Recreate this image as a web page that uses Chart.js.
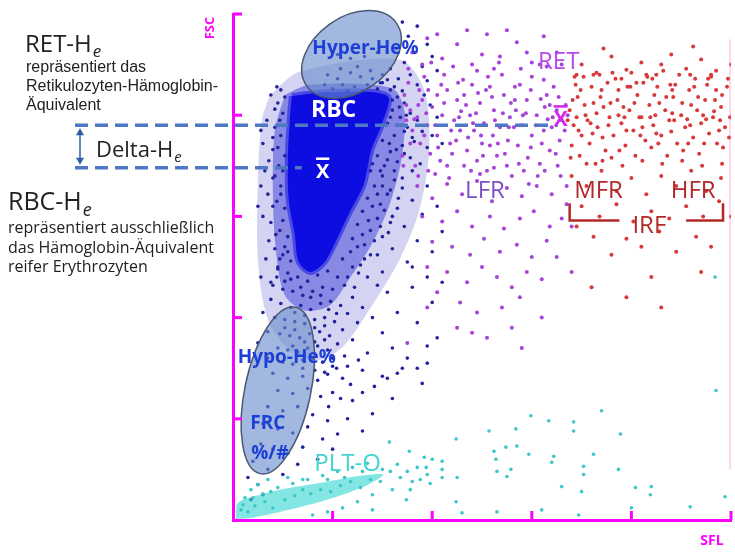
<!DOCTYPE html>
<html>
<head>
<meta charset="utf-8">
<script src="https://cdn.jsdelivr.net/npm/chart.js@4.4.0/dist/chart.umd.min.js"></script>
<style>
  html, body { margin: 0; padding: 0; background: #fff; }
  #wrap { width: 735px; height: 552px; }
</style>
</head>
<body>
<div id="wrap"><canvas id="plot" width="735" height="552"></canvas></div>
<script>
// SFL (x) und FSC (y), beide Achsen 0..500 Kanäle
const axisTicks = [100, 200, 300, 400, 500];

// dichter Kern der RBC-Wolke (Umriss)
const rbcCore = [[59,419],[97,423],[155,419],[149,390],[139,366],[131,331],[116,302],[104,277],[92,255],[78,245],[66,255],[62,282],[56,316],[55,356],[57,395],[59,419]];
// Hof um den Kern: innen mitteldicht, aussen locker
const rbcInner = [[52,420],[77,430],[159,427],[172,405],[169,356],[157,311],[139,272],[116,237],[97,212],[72,207],[52,222],[43,267],[40,326],[42,385],[52,420]];
const rbcOuter = [[37,420],[67,443],[167,455],[192,425],[197,366],[187,306],[167,257],[137,208],[112,173],[87,158],[57,168],[35,198],[25,257],[25,336],[29,395],[37,420]];

const rbcDots = [
  [170,492],[185,488],[176,478],[195,470],[164,466],[182,462],[200,458],[172,452],[190,448],[158,446],[205,444],[178,440],[166,436],[195,434],[150,432],
  [95,440],[105,436],[118,442],[128,438],[140,436],[110,430],[122,428],[135,430],[148,432],[100,426],[115,424],[130,424],[145,426],[92,430],[108,446],[125,448],[138,444],[150,440],[118,456],[132,458],[105,460],[145,462],
  [38,420],[45,412],[50,402],[34,395],[42,388],[48,380],[30,372],[40,366],[52,360],[36,355],[46,350],[44,428],[52,418],[28,385],
  [158,425],[165,418],[172,412],[160,405],[178,402],[168,398],[185,395],[155,392],[175,388],[190,384],[162,380],[150,375],[182,374],[170,370],[195,368],[158,364],[145,360],[178,358],[165,354],[188,352],[152,350],[198,410],[205,398],[192,420],[185,430],[200,380],[210,372],[148,345],[140,352],
  [32,345],[40,338],[48,330],[35,322],[44,315],[52,308],[30,300],[38,294],[47,286],[55,280],[36,276],[42,268],[50,262],[58,256],[33,258],[45,250],[28,330],[25,310],
  [138,345],[150,340],[162,336],[142,330],[170,328],[155,322],[135,318],[180,316],[148,312],[165,308],[130,305],[190,302],[145,298],[158,294],[125,292],[172,290],[138,286],[150,280],[120,278],[185,276],[132,272],[160,268],[118,265],[145,262],[110,258],[175,255],[128,252],[200,265],[195,330],[205,310],[210,285],[180,250],[135,240],[150,245],[195,240],
  [45,248],[55,244],[65,240],[75,236],[85,242],[95,246],[105,240],[40,232],[50,228],[60,226],[70,222],[80,226],[90,230],[100,228],[112,232],[38,218],[48,214],[58,210],[68,212],[78,208],[88,214],[98,216],[108,212],[120,220],
  [42,200],[52,198],[62,196],[72,194],[82,198],[92,200],[102,196],[115,204],[130,210],[35,186],[47,184],[57,182],[67,180],[77,184],[87,186],[97,182],[110,188],[125,195],[140,200],
  [45,170],[55,168],[65,166],[75,170],[85,172],[95,168],[105,174],[120,178],[150,185],[160,170],[50,156],[60,154],[70,158],[80,160],[90,156],[100,152],[112,162],[135,165],[170,150],[185,195],[200,215],[155,225],[165,205],[145,232],[180,230],[195,172],[30,205],[28,240],[25,175],[35,160],
  [40,145],[55,140],[70,142],[85,138],[95,144],[110,140],[130,148],[150,142],[45,128],[60,125],[75,130],[88,122],[100,126],[120,118],[160,120],[190,135],
  [35,112],[50,108],[65,112],[80,104],[95,98],[115,100],[140,105],[30,95],[45,90],[60,86],[75,92],[90,80],[105,85],[28,75],[40,70],[55,66],[70,72],[85,60],[100,70],[130,88],
  [20,58],[35,50],[50,45],[65,55],[25,35],[15,42],[30,25],[18,20],
  [155,435],[162,428],[170,424],[160,415],[167,408],[174,400],[158,398],[165,390],[172,384],[180,378],[157,372],[164,366],[172,362],[180,345],[155,356],[162,345],[170,338],[150,330],[158,326],[166,318],[145,322],[152,306],[160,300],[140,310],[148,290],[156,284],[136,296],[142,276],[130,282],[138,262],[125,270],[132,258],[120,250],[126,244],[115,240],[122,230],
  [48,425],[42,406],[47,395],[40,378],[45,368],[50,345],[42,340],[48,322],[40,310],[50,296],[43,282],[52,270],[47,258],[55,265],[38,235],[44,240],[52,236],
  [58,238],[68,230],[78,220],[88,222],[96,208],[62,205],[72,202],[82,190],[92,192],[104,204],[52,190],[62,188],[72,176],[82,176],[92,178],[100,160],[60,172],[70,150],[82,148],[92,146],[104,150],[115,152],[126,158],[118,134],[108,120],[96,112],[130,126],[142,132],[155,140],[165,145],[175,160],[185,150],[195,155],[205,180],[210,235]
];

const retDots = [
  [172,420],[178,405],[185,398],[190,415],[195,390],[200,408],[205,380],[210,400],[215,425],[218,372],[222,395],[180,385],[188,372],[198,362],[208,355],[176,432],[192,438],[212,440],[225,415],[228,385],[170,360],[183,350],[196,345],[215,350],[220,362],[205,420],[187,425],[174,395],[229,404],[226,432],
  [232,420],[238,400],[242,385],[248,412],[252,392],[258,370],[262,405],[268,388],[272,420],[276,375],[235,365],[245,355],[255,345],[265,360],[275,350],[240,430],[256,438],[270,440],[278,398],[250,372],[260,418],[244,402],[236,378],[266,372],[279,412],
  [284,405],[290,390],[295,415],[300,380],[305,400],[310,372],[315,420],[320,388],[325,405],[330,395],[286,370],[296,358],[308,352],[318,365],[328,375],[288,430],[300,438],[312,435],[322,428],[334,410],[292,345],[306,340],[326,350],[282,388],[316,396],
  [174,410],[182,396],[194,402],[203,390],[212,412],[219,385],[227,398],[234,410],[241,392],[249,380],[254,425],[263,395],[271,402],[277,388],[283,415],[291,400],[299,425],[304,390],[313,408],[321,398],[327,418],[333,385],[178,372],[192,380],[206,368],[224,375],[239,345],[251,360],[261,380],[273,362],[287,352],[299,368],[312,385],[324,362],[336,400],[186,410],[196,425],[209,430],[231,435],[246,422],[258,428],[283,428],[294,402],[309,416],[318,410],
  [171,350],[186,340],[203,342],[217,338],[232,350],[248,342],[262,348],[280,340],[297,332],[313,345],[329,340],[176,446],[199,452],[221,448],[245,444],[267,452],[289,446],[308,450],
  [180,462],[195,476],[210,456],[225,470],[240,450],[255,480],[268,458],[285,472],[300,452],[312,478],[325,462],[190,450],[235,484],[262,446],[295,462],[330,450],[205,480],[275,484],[250,460],[315,448],
  [185,330],[200,318],[215,332],[230,322],[245,335],[260,315],[275,328],[290,320],[305,330],[320,322],[335,312],[190,300],[210,295],[225,305],[240,290],[258,300],[272,288],[288,298],[302,305],[318,290],[330,298],
  [200,275],[220,270],[238,262],[252,278],[268,265],[285,272],[300,260],[315,276],[195,250],[215,245],[235,235],[250,250],[265,240],[280,230],[295,245],[205,225],[228,215],[245,205],[270,210],[288,220],[310,238],[325,260],[340,290],[335,330],[240,185],[280,190],[195,210],[310,200],[225,190],[255,180],[175,175],[290,170],[340,245]
];

const irfDots = [
  [338,405],[342,390],[346,418],[350,380],[354,400],[358,372],[362,412],[366,388],[370,425],[374,365],[378,398],[382,380],[386,415],[390,392],[394,370],[398,405],[402,385],[406,420],[410,398],[414,375],[418,410],[422,390],[426,428],[430,380],[434,405],[438,395],[442,418],[446,372],[450,400],[454,388],[458,425],[462,378],[466,405],[470,392],[474,415],[478,382],[482,398],[486,372],[490,408],[494,388],[498,378],
  [340,370],[348,360],[356,395],[364,352],[372,408],[380,358],[388,365],[396,428],[404,360],[412,432],[420,368],[428,412],[436,360],[444,430],[452,365],[460,410],[468,362],[476,430],[484,415],[492,368],
  [344,430],[352,438],[368,440],[384,436],[400,442],[416,438],[432,444],[448,440],[464,436],[480,440],[496,428],[360,428],[376,432],[392,408],[408,398],[424,400],[440,384],[456,396],[472,400],[488,385],
  [345,398],[361,382],[377,390],[393,398],[409,380],[425,382],[441,402],[457,372],[473,372],[489,395],
  [336,395],[341,415],[347,385],[353,410],[359,392],[365,402],[371,378],[379,412],[387,400],[395,385],[403,412],[411,388],[419,398],[427,372],[435,418],[443,395],[451,412],[459,390],[467,418],[475,396],[483,404],[491,420],[499,398],
  [339,358],[355,352],[371,355],[391,350],[411,355],[431,352],[451,355],[471,350],[491,352],[343,438],[362,440],[381,442],[399,428],[421,436],[439,430],[459,440],[477,436],[497,436],[349,425],[369,418],[387,425],[405,432],[423,420],[441,425],[463,428],[485,425],
  [350,450],[365,442],[380,458],[395,445],[410,452],[425,440],[440,460],[455,446],[470,455],[485,444],[500,450],[372,466],[430,450],[462,468],[345,440],[390,436],[415,440],[480,438],
  [340,340],[355,330],[370,345],[385,325],[400,338],[415,322],[430,340],[445,330],[460,345],[475,325],[490,338],[350,310],[368,300],[385,312],[402,295],[420,305],[438,298],[455,310],[472,300],[488,315],
  [362,280],[395,278],[428,285],[465,280],[500,300],[380,262],[445,265],[345,290],[410,270],[480,270],[360,230],[420,240],[470,245],[395,220],[430,210]
];

// dichtes PLT-O-Band am Ursprung (Umriss)
const pltBand = [[3,1],[5,17],[27,25],[47,30],[90,37],[123,43],[151,45],[136,35],[116,27],[84,17],[47,8],[17,2],[3,1]];
const pltDots = [
  [20,22],[30,26],[45,32],[60,36],[75,40],[90,44],[105,48],[120,52],[135,56],[150,50],[165,55],[175,48],[185,52],[195,45],[180,38],[160,30],[140,25],[125,18],[110,12],[95,8],[80,5],[200,60],[210,50],[225,42],[15,8],[10,15],[40,12],[25,35],
  [8,10],[12,22],[22,14],[32,18],[38,28],[52,20],[62,24],[70,30],[78,26],[88,30],[98,28],[108,34],[118,38],[128,32],[138,40],[148,38],[158,48],[168,42],[178,30],[188,40],[198,36],[130,48],[112,42],[95,40],[70,40],[55,42],[35,40],[18,30],
  [157,77],[177,68],[192,62],[210,58],[224,80],[257,88],[284,90],[299,103],[317,98],[342,97],[342,88],[370,108],[389,85],[485,128],
  [262,68],[274,72],[285,73],[264,60],[297,65],[322,63],[320,57],[362,65],[352,53],[352,45],[387,50],[279,50],[275,43],[265,48],
  [330,33],[350,28],[404,32],[420,33],[419,25],[459,13],[494,23],[224,18],[265,8],[310,10],[347,5],[400,12],[174,20],[210,42],[194,52],[230,7],[140,10],[484,240]
];

// Gates (Ellipsen), Mittelpunkt und Halbachsen in Kanälen
const gates = [
  { cx: 119, cy: 460, rx: 55, ry: 37, rot: -35 },  // Hyper-He%
  { cx: 45, cy: 128, rx: 33, ry: 84, rot: 12 }     // Hypo-He%
];

const plotLabels = [
  { text: 'Hyper-He%', x: 133, y: 466, color: '#1d3fd6', font: 'bold 19px "Open Sans"' },
  { text: 'RBC', x: 101, y: 405, color: '#ffffff', font: 'bold 23px "Open Sans"' },
  { text: 'RET', x: 327, y: 452, color: '#b648ec', font: '24px "Open Sans"' },
  { text: 'LFR', x: 253, y: 325, color: '#7b50c4', font: '24px "Open Sans"' },
  { text: 'MFR', x: 367, y: 325, color: '#b32828', font: '24px "Open Sans"' },
  { text: 'HFR', x: 462, y: 325, color: '#b32828', font: '24px "Open Sans"' },
  { text: 'IRF', x: 418, y: 290, color: '#b32828', font: '24px "Open Sans"' },
  { text: 'Hypo-He%', x: 54, y: 160, color: '#1d3fd6', font: 'bold 19px "Open Sans"' },
  { text: 'FRC', x: 35, y: 95, color: '#1d3fd6', font: 'bold 19px "Open Sans"' },
  { text: '%/#', x: 37, y: 66, color: '#1d3fd6', font: 'bold 19px "Open Sans"' },
  { text: 'PLT-O', x: 115, y: 55, color: '#3fd6d0', font: '24px "Open Sans"' }
];

const pts = arr => arr.map(([x, y]) => ({ x, y }));
const MAGENTA = '#ff00ff';

function subText(ctx, main, sub, x, y, size) {
  ctx.font = size + 'px "Open Sans"';
  ctx.fillText(main, x, y);
  const w = ctx.measureText(main).width;
  ctx.font = 'italic ' + Math.round(size * 0.7) + 'px "Open Sans"';
  ctx.fillText(sub, x + w + 1, y + size * 0.22);
}

function xBar(ctx, cx, cy, color, size) {
  ctx.fillStyle = color;
  ctx.font = 'bold ' + size + 'px "Open Sans"';
  ctx.textAlign = 'center';
  ctx.textBaseline = 'middle';
  ctx.fillText('X', cx, cy);
  const w = ctx.measureText('X').width;
  ctx.fillRect(cx - w / 2, cy - size * 0.72, w, 2.5);
}

const decor = {
  id: 'decor',
  afterDraw(chart) {
    const { ctx, chartArea: a, scales: { x, y } } = chart;
    const px = v => x.getPixelForValue(v);
    const py = v => y.getPixelForValue(v);
    ctx.save();

    // Gates
    gates.forEach(g => {
      ctx.beginPath();
      ctx.ellipse(px(g.cx), py(g.cy), px(g.rx) - px(0), py(0) - py(g.ry), g.rot * Math.PI / 180, 0, 2 * Math.PI);
      ctx.fillStyle = 'rgba(105,140,205,0.62)';
      ctx.fill();
      ctx.lineWidth = 1.5;
      ctx.strokeStyle = '#4a5873';
      ctx.stroke();
    });

    // Mittelwert-Linien (RET-He / RBC-He)
    ctx.setLineDash([13, 7]);
    ctx.lineWidth = 3.5;
    ctx.strokeStyle = '#4f78c4';
    ctx.beginPath();
    ctx.moveTo(75, py(390)); ctx.lineTo(px(326), py(390));
    ctx.moveTo(75, py(348)); ctx.lineTo(px(69), py(348));
    ctx.stroke();
    ctx.setLineDash([]);

    // Delta-Pfeil
    const ay1 = py(390) + 3, ay2 = py(348) - 3;
    ctx.strokeStyle = ctx.fillStyle = '#2a5fa8';
    ctx.lineWidth = 1.5;
    ctx.beginPath(); ctx.moveTo(80, ay1 + 4); ctx.lineTo(80, ay2 - 4); ctx.stroke();
    ctx.beginPath(); ctx.moveTo(80, ay1); ctx.lineTo(76, ay1 + 7); ctx.lineTo(84, ay1 + 7); ctx.fill();
    ctx.beginPath(); ctx.moveTo(80, ay2); ctx.lineTo(76, ay2 - 7); ctx.lineTo(84, ay2 - 7); ctx.fill();

    // IRF-Klammer
    ctx.strokeStyle = '#b32828';
    ctx.lineWidth = 2.5;
    ctx.beginPath();
    ctx.moveTo(px(338), py(313)); ctx.lineTo(px(338), py(296)); ctx.lineTo(px(388), py(296));
    ctx.moveTo(px(455), py(296)); ctx.lineTo(px(492), py(296)); ctx.lineTo(px(492), py(313));
    ctx.stroke();

    // rechte Randlinie
    ctx.strokeStyle = 'rgba(255,110,190,0.35)';
    ctx.lineWidth = 1.5;
    ctx.beginPath(); ctx.moveTo(px(499), py(475)); ctx.lineTo(px(499), py(50)); ctx.stroke();

    // Beschriftungen im Plot
    ctx.textAlign = 'center';
    ctx.textBaseline = 'middle';
    plotLabels.forEach(l => {
      ctx.font = l.font;
      ctx.fillStyle = l.color;
      ctx.fillText(l.text, px(l.x), py(l.y));
    });
    xBar(ctx, px(90), py(344), '#ffffff', 20);
    xBar(ctx, px(329), py(395), '#d624ee', 21);

    // Achsenmarken nach innen
    ctx.strokeStyle = MAGENTA;
    ctx.lineWidth = 3;
    axisTicks.forEach(v => {
      ctx.beginPath(); ctx.moveTo(px(v), a.bottom); ctx.lineTo(px(v), a.bottom - 9); ctx.stroke();
      ctx.beginPath(); ctx.moveTo(a.left, py(v)); ctx.lineTo(a.left + 9, py(v)); ctx.stroke();
    });

    // Achsentitel
    ctx.fillStyle = MAGENTA;
    ctx.font = 'bold 13px "Open Sans"';
    ctx.save();
    ctx.translate(a.left - 23, a.top + 14);
    ctx.rotate(-Math.PI / 2);
    ctx.fillText('FSC', 0, 0);
    ctx.restore();
    ctx.font = 'bold 14px "Open Sans"';
    ctx.fillText('SFL', a.right - 19, a.bottom + 21);

    // Erläuterungen links
    ctx.textAlign = 'left';
    ctx.textBaseline = 'alphabetic';
    ctx.fillStyle = '#222';
    subText(ctx, 'RET-H', 'e', 25, 52, 24);
    ctx.font = '16px "Liberation Sans"';
    ctx.fillText('repräsentiert das', 26, 72);
    ctx.fillText('Retikulozyten-Hämoglobin-', 26, 91);
    ctx.fillText('Äquivalent', 26, 110);
    subText(ctx, 'Delta-H', 'e', 96, 157, 22);
    subText(ctx, 'RBC-H', 'e', 8, 210, 25);
    ctx.font = '16px "Open Sans"';
    ctx.fillText('repräsentiert ausschließlich', 8, 233);
    ctx.fillText('das Hämoglobin-Äquivalent', 8, 253);
    ctx.fillText('reifer Erythrozyten', 8, 272);

    ctx.restore();
  }
};

const dot = (data, color, r, order) => ({
  data: pts(data), backgroundColor: color, pointRadius: r, pointBorderWidth: 0, order
});
const area = (data, color, order, edge) => ({
  data: pts(data), showLine: true, fill: 'shape', backgroundColor: color,
  borderColor: edge || color, borderWidth: edge ? 6 : 0, pointRadius: 0, tension: 0.3, order
});

new Chart(document.getElementById('plot'), {
  type: 'scatter',
  data: {
    datasets: [
      area(rbcOuter, 'rgba(40,40,190,0.2)', 7),
      area(rbcInner, 'rgba(30,30,210,0.42)', 6),
      dot(rbcDots, '#23239e', 1.8, 5),
      area(rbcCore, '#0d0de2', 4, 'rgba(13,13,226,0.5)'),
      dot(retDots, '#a644da', 2, 3),
      dot(irfDots, '#d83a3a', 2, 2),
      area(pltBand, 'rgba(50,214,206,0.6)', 1),
      dot(pltDots, '#3cc8c6', 1.8, 0)
    ]
  },
  options: {
    responsive: false,
    animation: false,
    events: [],
    layout: { padding: { left: 233, right: 0, top: 14, bottom: 32 } },
    plugins: { legend: { display: false }, tooltip: { enabled: false } },
    scales: {
      x: {
        min: 0, max: 500, z: 1,
        ticks: { display: false },
        grid: { display: false, drawTicks: false },
        border: { color: MAGENTA, width: 3 }
      },
      y: {
        min: 0, max: 500, z: 1,
        ticks: { display: false },
        grid: { display: false, drawTicks: false },
        border: { color: MAGENTA, width: 3 }
      }
    }
  },
  plugins: [decor]
});
</script>
</body>
</html>
